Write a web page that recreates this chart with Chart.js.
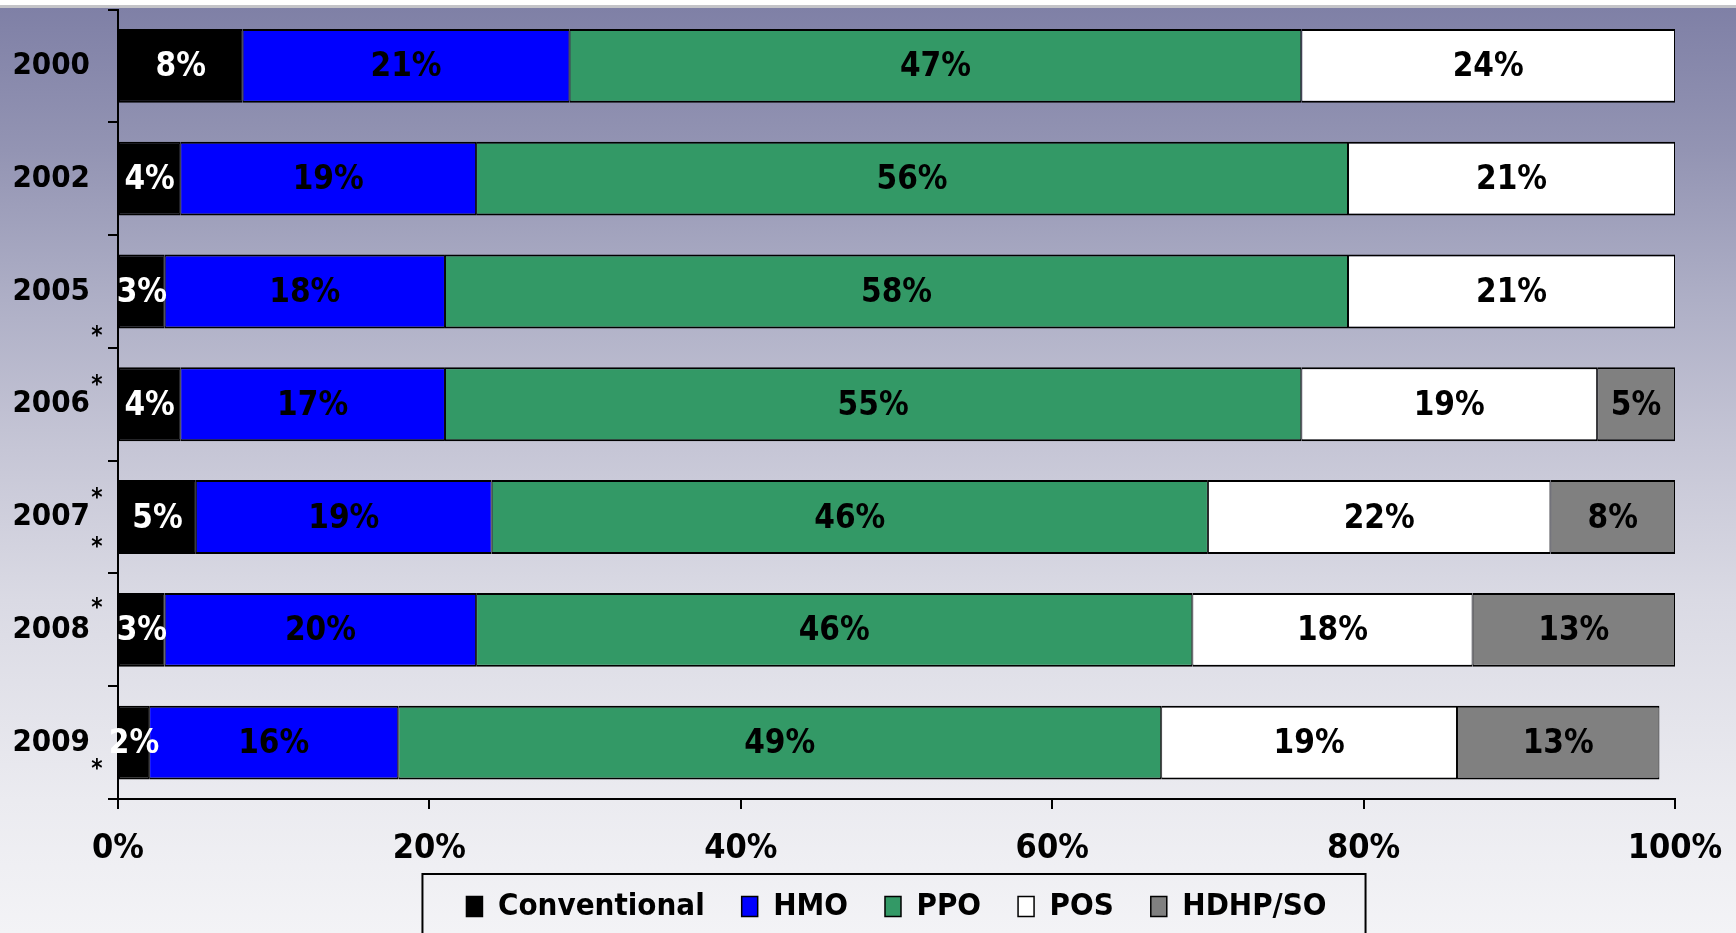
<!DOCTYPE html>
<html>
<head>
<meta charset="utf-8">
<title>Plan enrollment</title>
<script src="https://cdn.jsdelivr.net/npm/chart.js@4.4.1/dist/chart.umd.min.js"></script>
<style>
  html, body {
    margin: 0;
    padding: 0;
    width: 1736px;
    height: 933px;
    overflow: hidden;
  }
  body {
    background: linear-gradient(to bottom,
      #ffffff 0px, #ffffff 5px, #c4c4c8 5px, #c4c4c8 8px,
      #7f80a6 8px, #9394b3 150px, #aeafc6 300px, #c6c6d6 450px,
      #dadae4 600px, #ebebf0 800px, #f3f3f6 933px);
  }
  #wrap {
    position: relative;
    width: 1736px;
    height: 933px;
  }
</style>
</head>
<body>
<div id="wrap"><canvas id="plans"></canvas></div>
<script>
const years = ['2000', '2002', '2005', '2006', '2007', '2008', '2009'];
const conventional = [8, 4, 3, 4, 5, 3, 2];
const hmo = [21, 19, 18, 17, 19, 20, 16];
const ppo = [47, 56, 58, 55, 46, 46, 49];
const pos = [24, 21, 21, 19, 22, 18, 19];
const hdhp = [0, 0, 0, 5, 8, 13, 13];
const xTicks = [0, 20, 40, 60, 80, 100];

const FONT = "'DejaVu Sans Condensed', 'Liberation Sans Narrow', 'DejaVu Sans', sans-serif";

const seriesNames = ['Conventional', 'HMO', 'PPO', 'POS', 'HDHP/SO'];
const seriesData = [conventional, hmo, ppo, pos, hdhp];
const seriesColors = ['#000000', '#0000ff', '#339966', '#ffffff', '#808080'];
const labelColors = ['#ffffff', '#000000', '#000000', '#000000', '#000000'];

const datasets = seriesNames.map((name, i) => ({
  label: name,
  data: seriesData[i],
  backgroundColor: seriesColors[i],
  borderColor: '#000000',
  borderWidth: {top: 2, bottom: 2, left: 1, right: 1},
  borderSkipped: false,
  categoryPercentage: 1,
  barPercentage: 0.655
}));

// percent text centred on each segment
const segmentLabels = {
  id: 'segmentLabels',
  afterDatasetsDraw(chart) {
    const ctx = chart.ctx;
    ctx.save();
    ctx.font = 'bold 33px ' + FONT;
    ctx.textAlign = 'center';
    ctx.textBaseline = 'middle';
    chart.data.datasets.forEach((ds, i) => {
      const meta = chart.getDatasetMeta(i);
      meta.data.forEach((bar, j) => {
        const v = ds.data[j];
        if (!v) return;
        ctx.fillStyle = labelColors[i];
        ctx.fillText(v + '%', (bar.x + bar.base) / 2, bar.y + 2);
      });
    });
    ctx.restore();
  }
};

// footnote stars next to the year labels: [row, offset as share of row height]
const stars = [[2, 0.36], [3, -0.21], [4, -0.21], [4, 0.23], [5, -0.23], [6, 0.2]];
const yearStars = {
  id: 'yearStars',
  afterDraw(chart) {
    const y = chart.scales.y;
    const rowH = (y.bottom - y.top) / years.length;
    const ctx = chart.ctx;
    ctx.save();
    ctx.font = 'bold 24px ' + FONT;
    ctx.fillStyle = '#000';
    ctx.textAlign = 'center';
    ctx.textBaseline = 'middle';
    stars.forEach(([row, off]) => {
      ctx.fillText('*', y.right - 21, y.getPixelForValue(row) + off * rowH + 5);
    });
    ctx.restore();
  }
};

// the % labels hang below the x axis box; widen its label clip so they are not cut
const labelRoom = {
  id: 'labelRoom',
  afterLayout(chart) {
    chart.scales.x.bottom += 24;
  }
};

// frame around the legend, running off the bottom edge
const legendFrame = {
  id: 'legendFrame',
  afterDraw(chart) {
    const hb = chart.legend.legendHitBoxes;
    if (!hb || !hb.length) return;
    const last = hb[hb.length - 1];
    const left = hb[0].left - 44;
    const right = last.left + last.width + 39;
    const top = hb[0].top - 17;
    const ctx = chart.ctx;
    ctx.save();
    ctx.strokeStyle = '#000';
    ctx.lineWidth = 2;
    ctx.strokeRect(left, top, right - left, chart.height + 20 - top);
    ctx.restore();
  }
};

new Chart(document.getElementById('plans'), {
  type: 'bar',
  data: {labels: years, datasets: datasets},
  options: {
    indexAxis: 'y',
    responsive: true,
    maintainAspectRatio: false,
    animation: false,
    layout: {padding: {top: 9.5, right: 61, bottom: 1, left: 0}},
    scales: {
      x: {
        stacked: true,
        min: 0,
        max: 100,
        afterBuildTicks(scale) {
          scale.ticks = xTicks.map(v => ({value: v}));
        },
        afterFit(scale) {
          scale.height = 55;
          scale.paddingLeft = 0;
          scale.paddingRight = 0;
        },
        grid: {drawOnChartArea: false, drawTicks: true, tickLength: 10, color: '#000', lineWidth: 2},
        border: {display: true, color: '#000', width: 2},
        ticks: {
          callback: v => v + '%',
          color: '#000',
          padding: 20,
          maxRotation: 0,
          font: {family: FONT, size: 34, weight: 'bold'}
        }
      },
      y: {
        stacked: true,
        afterFit(scale) {
          scale.width = 118;
          scale.paddingTop = 0;
          scale.paddingBottom = 0;
        },
        grid: {drawOnChartArea: false, drawTicks: true, tickLength: 10, color: '#000', lineWidth: 2, offset: true},
        border: {display: true, color: '#000', width: 2},
        ticks: {
          color: '#000',
          padding: 18,
          font: {family: FONT, size: 31, weight: 'bold'}
        }
      }
    },
    plugins: {
      tooltip: {enabled: false},
      legend: {
        position: 'bottom',
        fullSize: false,
        labels: {
          color: '#000',
          boxWidth: 16,
          boxHeight: 20,
          padding: 37,
          font: {family: FONT, size: 31, weight: 'bold'},
          generateLabels(chart) {
            return chart.data.datasets.map((ds, i) => ({
              text: ds.label,
              fillStyle: ds.backgroundColor,
              strokeStyle: '#000',
              lineWidth: 1.5,
              datasetIndex: i
            }));
          }
        }
      }
    }
  },
  plugins: [labelRoom, segmentLabels, yearStars, legendFrame]
});
</script>
</body>
</html>
